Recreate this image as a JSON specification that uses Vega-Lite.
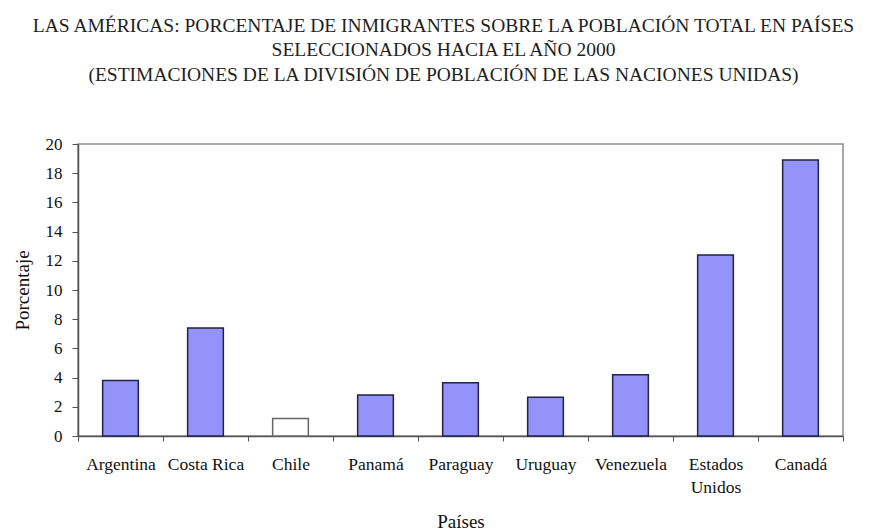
{
  "$schema": "https://vega.github.io/schema/vega-lite/v6.json",
  "width": 765,
  "height": 292,
  "autosize": {"type": "none"},
  "padding": {"left": 78, "top": 144, "right": 29, "bottom": 96},
  "background": "white",
  "config": {
    "font": "Liberation Serif",
    "view": {"stroke": "#8c8c8c", "strokeWidth": 1.5}
  },
  "title": {
    "text": [
      "LAS AMÉRICAS: PORCENTAJE DE INMIGRANTES SOBRE LA POBLACIÓN TOTAL EN PAÍSES",
      "SELECCIONADOS HACIA EL AÑO 2000",
      "(ESTIMACIONES DE LA DIVISIÓN DE POBLACIÓN DE LAS NACIONES UNIDAS)"
    ],
    "font": "Liberation Serif",
    "fontSize": 19.5,
    "fontWeight": "normal",
    "color": "#1e1e1e",
    "anchor": "middle",
    "lineHeight": 24.5,
    "offset": 50,
    "dx": -17
  },
  "data": {
    "values": [
      {"pais": "Argentina", "valor": 3.8},
      {"pais": "Costa Rica", "valor": 7.4},
      {"pais": "Chile", "valor": 1.2},
      {"pais": "Panamá", "valor": 2.8},
      {"pais": "Paraguay", "valor": 3.65},
      {"pais": "Uruguay", "valor": 2.65},
      {"pais": "Venezuela", "valor": 4.2},
      {"pais": "Estados Unidos", "valor": 12.4},
      {"pais": "Canadá", "valor": 18.9}
    ]
  },
  "mark": {"type": "bar", "width": {"band": 0.42}, "strokeWidth": 1.5},
  "encoding": {
    "x": {
      "field": "pais",
      "type": "nominal",
      "sort": null,
      "scale": {"paddingInner": 0, "paddingOuter": 0},
      "axis": {
        "title": "Países",
        "titleFont": "Liberation Serif",
        "titleFontSize": 19,
        "titleFontWeight": "normal",
        "titleColor": "#111111",
        "titlePadding": 17,
        "labelAngle": 0,
        "labelFont": "Liberation Serif",
        "labelFontSize": 17.5,
        "labelColor": "#111111",
        "labelPadding": 14,
        "labelLineHeight": 23,
        "labelOverlap": false,
        "labelExpr": "datum.value == 'Estados Unidos' ? ['Estados', 'Unidos'] : datum.value",
        "tickBand": "extent",
        "tickSize": 5,
        "tickColor": "#555555",
        "domainColor": "#555555",
        "domainWidth": 1.5
      }
    },
    "y": {
      "field": "valor",
      "type": "quantitative",
      "scale": {"domain": [0, 20]},
      "axis": {
        "title": "Porcentaje",
        "titleFont": "Liberation Serif",
        "titleFontSize": 19,
        "titleFontWeight": "normal",
        "titleColor": "#111111",
        "titlePadding": 13,
        "values": [0, 2, 4, 6, 8, 10, 12, 14, 16, 18, 20],
        "grid": false,
        "labelFont": "Liberation Serif",
        "labelFontSize": 17,
        "labelColor": "#111111",
        "labelPadding": 10,
        "tickSize": 6,
        "tickColor": "#555555",
        "domainColor": "#555555",
        "domainWidth": 1.5
      }
    },
    "fill": {
      "condition": {"test": "datum.pais === 'Chile'", "value": "#ffffff"},
      "value": "#9393fa"
    },
    "stroke": {
      "condition": {"test": "datum.pais === 'Chile'", "value": "#666666"},
      "value": "#22224a"
    }
  }
}
